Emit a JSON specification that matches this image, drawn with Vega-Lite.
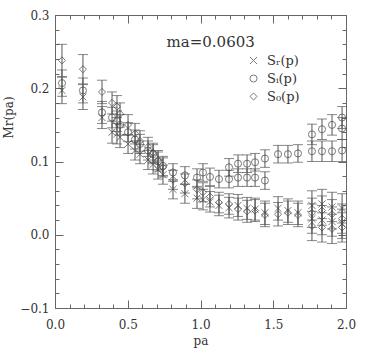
{
  "$schema": "https://vega.github.io/schema/vega-lite/v6.json",
  "width": 291,
  "height": 293,
  "autosize": {"type": "none"},
  "padding": {"left": 55, "top": 15, "right": 30, "bottom": 46},
  "background": "white",
  "config": {"view": {"stroke": "#666", "strokeWidth": 1}},
  "resolve": {"axis": {"x": "independent", "y": "independent"}},
  "datasets": {
    "pts": [
      {"p":0.048,"s":"R","v":0.197,"lo":0.179,"hi":0.215},
      {"p":0.192,"s":"R","v":0.188,"lo":0.171,"hi":0.205},
      {"p":0.323,"s":"R","v":0.160,"lo":0.145,"hi":0.175},
      {"p":0.392,"s":"R","v":0.140,"lo":0.125,"hi":0.155},
      {"p":0.426,"s":"R","v":0.138,"lo":0.124,"hi":0.152},
      {"p":0.447,"s":"R","v":0.133,"lo":0.119,"hi":0.147},
      {"p":0.502,"s":"R","v":0.124,"lo":0.111,"hi":0.137},
      {"p":0.550,"s":"R","v":0.115,"lo":0.102,"hi":0.128},
      {"p":0.584,"s":"R","v":0.110,"lo":0.097,"hi":0.123},
      {"p":0.639,"s":"R","v":0.102,"lo":0.089,"hi":0.115},
      {"p":0.674,"s":"R","v":0.096,"lo":0.083,"hi":0.109},
      {"p":0.708,"s":"R","v":0.089,"lo":0.076,"hi":0.102},
      {"p":0.742,"s":"R","v":0.082,"lo":0.069,"hi":0.095},
      {"p":0.811,"s":"R","v":0.062,"lo":0.049,"hi":0.075},
      {"p":0.893,"s":"R","v":0.056,"lo":0.043,"hi":0.069},
      {"p":0.976,"s":"R","v":0.050,"lo":0.036,"hi":0.064},
      {"p":1.017,"s":"R","v":0.048,"lo":0.034,"hi":0.062},
      {"p":1.065,"s":"R","v":0.045,"lo":0.031,"hi":0.059},
      {"p":1.127,"s":"R","v":0.040,"lo":0.026,"hi":0.054},
      {"p":1.196,"s":"R","v":0.037,"lo":0.023,"hi":0.051},
      {"p":1.258,"s":"R","v":0.040,"lo":0.025,"hi":0.055},
      {"p":1.320,"s":"R","v":0.036,"lo":0.021,"hi":0.051},
      {"p":1.375,"s":"R","v":0.035,"lo":0.020,"hi":0.050},
      {"p":1.443,"s":"R","v":0.030,"lo":0.014,"hi":0.046},
      {"p":1.533,"s":"R","v":0.036,"lo":0.020,"hi":0.052},
      {"p":1.601,"s":"R","v":0.033,"lo":0.017,"hi":0.049},
      {"p":1.670,"s":"R","v":0.030,"lo":0.014,"hi":0.046},
      {"p":1.766,"s":"R","v":0.040,"lo":0.020,"hi":0.060},
      {"p":1.766,"s":"R","v":0.022,"lo":0.002,"hi":0.042},
      {"p":1.835,"s":"R","v":0.042,"lo":0.022,"hi":0.062},
      {"p":1.835,"s":"R","v":0.020,"lo":0.000,"hi":0.040},
      {"p":1.904,"s":"R","v":0.038,"lo":0.018,"hi":0.058},
      {"p":1.904,"s":"R","v":0.018,"lo":-0.002,"hi":0.038},
      {"p":1.973,"s":"R","v":0.036,"lo":0.016,"hi":0.056},
      {"p":1.973,"s":"R","v":0.015,"lo":-0.005,"hi":0.035},

      {"p":0.048,"s":"I","v":0.207,"lo":0.189,"hi":0.225},
      {"p":0.192,"s":"I","v":0.197,"lo":0.180,"hi":0.214},
      {"p":0.323,"s":"I","v":0.167,"lo":0.152,"hi":0.182},
      {"p":0.392,"s":"I","v":0.160,"lo":0.146,"hi":0.174},
      {"p":0.426,"s":"I","v":0.155,"lo":0.141,"hi":0.169},
      {"p":0.447,"s":"I","v":0.150,"lo":0.136,"hi":0.164},
      {"p":0.502,"s":"I","v":0.140,"lo":0.127,"hi":0.153},
      {"p":0.550,"s":"I","v":0.130,"lo":0.117,"hi":0.143},
      {"p":0.584,"s":"I","v":0.124,"lo":0.111,"hi":0.137},
      {"p":0.639,"s":"I","v":0.115,"lo":0.102,"hi":0.128},
      {"p":0.674,"s":"I","v":0.110,"lo":0.097,"hi":0.123},
      {"p":0.708,"s":"I","v":0.100,"lo":0.087,"hi":0.113},
      {"p":0.742,"s":"I","v":0.094,"lo":0.081,"hi":0.107},
      {"p":0.811,"s":"I","v":0.085,"lo":0.073,"hi":0.097},
      {"p":0.893,"s":"I","v":0.081,"lo":0.069,"hi":0.093},
      {"p":0.976,"s":"I","v":0.078,"lo":0.066,"hi":0.090},
      {"p":1.017,"s":"I","v":0.085,"lo":0.073,"hi":0.097},
      {"p":1.065,"s":"I","v":0.079,"lo":0.067,"hi":0.091},
      {"p":1.127,"s":"I","v":0.076,"lo":0.064,"hi":0.088},
      {"p":1.196,"s":"I","v":0.076,"lo":0.064,"hi":0.088},
      {"p":1.196,"s":"I","v":0.092,"lo":0.080,"hi":0.104},
      {"p":1.258,"s":"I","v":0.078,"lo":0.066,"hi":0.090},
      {"p":1.258,"s":"I","v":0.097,"lo":0.085,"hi":0.109},
      {"p":1.320,"s":"I","v":0.078,"lo":0.066,"hi":0.090},
      {"p":1.320,"s":"I","v":0.097,"lo":0.085,"hi":0.109},
      {"p":1.375,"s":"I","v":0.078,"lo":0.066,"hi":0.090},
      {"p":1.375,"s":"I","v":0.099,"lo":0.087,"hi":0.111},
      {"p":1.443,"s":"I","v":0.074,"lo":0.062,"hi":0.086},
      {"p":1.443,"s":"I","v":0.104,"lo":0.092,"hi":0.116},
      {"p":1.533,"s":"I","v":0.110,"lo":0.098,"hi":0.122},
      {"p":1.601,"s":"I","v":0.110,"lo":0.098,"hi":0.122},
      {"p":1.670,"s":"I","v":0.111,"lo":0.099,"hi":0.123},
      {"p":1.766,"s":"I","v":0.114,"lo":0.100,"hi":0.128},
      {"p":1.766,"s":"I","v":0.137,"lo":0.123,"hi":0.151},
      {"p":1.835,"s":"I","v":0.114,"lo":0.100,"hi":0.128},
      {"p":1.835,"s":"I","v":0.144,"lo":0.130,"hi":0.158},
      {"p":1.904,"s":"I","v":0.114,"lo":0.100,"hi":0.128},
      {"p":1.904,"s":"I","v":0.150,"lo":0.136,"hi":0.164},
      {"p":1.973,"s":"I","v":0.115,"lo":0.100,"hi":0.130},
      {"p":1.973,"s":"I","v":0.145,"lo":0.130,"hi":0.160},
      {"p":1.973,"s":"I","v":0.160,"lo":0.145,"hi":0.175},

      {"p":0.048,"s":"0","v":0.238,"lo":0.216,"hi":0.260},
      {"p":0.192,"s":"0","v":0.226,"lo":0.206,"hi":0.246},
      {"p":0.323,"s":"0","v":0.195,"lo":0.179,"hi":0.211},
      {"p":0.392,"s":"0","v":0.180,"lo":0.165,"hi":0.195},
      {"p":0.426,"s":"0","v":0.175,"lo":0.160,"hi":0.190},
      {"p":0.447,"s":"0","v":0.165,"lo":0.150,"hi":0.180},
      {"p":0.502,"s":"0","v":0.150,"lo":0.136,"hi":0.164},
      {"p":0.550,"s":"0","v":0.138,"lo":0.124,"hi":0.152},
      {"p":0.584,"s":"0","v":0.128,"lo":0.114,"hi":0.142},
      {"p":0.639,"s":"0","v":0.120,"lo":0.107,"hi":0.133},
      {"p":0.674,"s":"0","v":0.112,"lo":0.099,"hi":0.125},
      {"p":0.708,"s":"0","v":0.102,"lo":0.089,"hi":0.115},
      {"p":0.742,"s":"0","v":0.092,"lo":0.079,"hi":0.105},
      {"p":0.811,"s":"0","v":0.075,"lo":0.062,"hi":0.088},
      {"p":0.893,"s":"0","v":0.070,"lo":0.057,"hi":0.083},
      {"p":0.976,"s":"0","v":0.062,"lo":0.049,"hi":0.075},
      {"p":1.017,"s":"0","v":0.058,"lo":0.045,"hi":0.071},
      {"p":1.065,"s":"0","v":0.052,"lo":0.038,"hi":0.066},
      {"p":1.127,"s":"0","v":0.044,"lo":0.030,"hi":0.058},
      {"p":1.196,"s":"0","v":0.042,"lo":0.028,"hi":0.056},
      {"p":1.258,"s":"0","v":0.035,"lo":0.020,"hi":0.050},
      {"p":1.320,"s":"0","v":0.032,"lo":0.017,"hi":0.047},
      {"p":1.375,"s":"0","v":0.033,"lo":0.018,"hi":0.048},
      {"p":1.443,"s":"0","v":0.027,"lo":0.011,"hi":0.043},
      {"p":1.533,"s":"0","v":0.028,"lo":0.012,"hi":0.044},
      {"p":1.601,"s":"0","v":0.030,"lo":0.014,"hi":0.046},
      {"p":1.670,"s":"0","v":0.027,"lo":0.011,"hi":0.043},
      {"p":1.766,"s":"0","v":0.030,"lo":0.010,"hi":0.050},
      {"p":1.766,"s":"0","v":0.012,"lo":-0.008,"hi":0.032},
      {"p":1.835,"s":"0","v":0.033,"lo":0.013,"hi":0.053},
      {"p":1.835,"s":"0","v":0.010,"lo":-0.010,"hi":0.030},
      {"p":1.904,"s":"0","v":0.028,"lo":0.008,"hi":0.048},
      {"p":1.904,"s":"0","v":0.008,"lo":-0.012,"hi":0.028},
      {"p":1.973,"s":"0","v":0.022,"lo":0.002,"hi":0.042},
      {"p":1.973,"s":"0","v":0.010,"lo":-0.010,"hi":0.030}
    ]
  },
  "layer": [
    {
      "data": {"name": "pts"},
      "mark": {"type": "errorbar", "ticks": {"size": 10, "color": "#555"}, "color": "#555", "thickness": 1},
      "encoding": {
        "x": {
          "field": "p", "type": "quantitative",
          "scale": {"domain": [0, 2], "nice": false, "zero": false},
          "axis": {
            "orient": "bottom", "title": "pa", "grid": false,
            "values": [0,0.1,0.2,0.3,0.4,0.5,0.6,0.7,0.8,0.9,1.0,1.1,1.2,1.3,1.4,1.5,1.6,1.7,1.8,1.9,2.0],
            "labelExpr": "abs(round(datum.value*10)) % 5 == 0 ? format(datum.value, '.1f') : ''",
            "tickSize": {"condition": {"test": "abs(round(datum.value*10)) % 5 == 0", "value": -8}, "value": -4},
            "labelOverlap": false, "labelFlush": false,
            "domainColor": "#666", "tickColor": "#666",
            "labelFont": "DejaVu Serif", "labelFontSize": 12, "labelColor": "#333", "labelPadding": 19,
            "titleFont": "DejaVu Serif", "titleFontSize": 12, "titleFontWeight": "normal", "titleColor": "#333", "titlePadding": 1
          }
        },
        "y": {
          "field": "lo", "type": "quantitative",
          "scale": {"domain": [-0.1, 0.3], "nice": false, "zero": false},
          "axis": {
            "orient": "left", "title": "Mr(pa)", "grid": false,
            "values": [-0.1,-0.08,-0.06,-0.04,-0.02,0,0.02,0.04,0.06,0.08,0.1,0.12,0.14,0.16,0.18,0.2,0.22,0.24,0.26,0.28,0.3],
            "labelExpr": "abs(round(datum.value*100)) % 10 == 0 ? format(datum.value, '.1f') : ''",
            "tickSize": {"condition": {"test": "abs(round(datum.value*100)) % 10 == 0", "value": -8}, "value": -4},
            "labelOverlap": false, "labelFlush": false,
            "domainColor": "#666", "tickColor": "#666",
            "labelFont": "DejaVu Serif", "labelFontSize": 12, "labelColor": "#333", "labelPadding": 14,
            "titleFont": "DejaVu Serif", "titleFontSize": 12, "titleFontWeight": "normal", "titleColor": "#333",
            "titleX": -40, "titleY": 102
          }
        },
        "y2": {"field": "hi"}
      }
    },
    {
      "data": {"name": "pts"},
      "mark": {"type": "point", "filled": false, "strokeWidth": 1, "color": "#444", "size": 50},
      "encoding": {
        "x": {
          "field": "p", "type": "quantitative",
          "axis": {
            "orient": "top", "title": null, "labels": false, "grid": false,
            "values": [0,0.1,0.2,0.3,0.4,0.5,0.6,0.7,0.8,0.9,1.0,1.1,1.2,1.3,1.4,1.5,1.6,1.7,1.8,1.9,2.0],
            "tickSize": {"condition": {"test": "abs(round(datum.value*10)) % 5 == 0", "value": -8}, "value": -4},
            "domainColor": "#666", "tickColor": "#666"
          }
        },
        "y": {
          "field": "v", "type": "quantitative",
          "axis": {
            "orient": "right", "title": null, "labels": false, "grid": false,
            "values": [-0.1,-0.08,-0.06,-0.04,-0.02,0,0.02,0.04,0.06,0.08,0.1,0.12,0.14,0.16,0.18,0.2,0.22,0.24,0.26,0.28,0.3],
            "tickSize": {"condition": {"test": "abs(round(datum.value*100)) % 10 == 0", "value": -8}, "value": -4},
            "domainColor": "#666", "tickColor": "#666"
          }
        },
        "shape": {
          "field": "s", "type": "nominal",
          "scale": {"domain": ["R", "I", "0"], "range": ["M-1,-1L1,1M-1,1L1,-1", "circle", "diamond"]},
          "legend": {
            "orient": "none", "legendX": 192, "legendY": 39, "title": null,
            "labelExpr": "datum.label == 'R' ? 'Sᵣ(p)' : datum.label == 'I' ? 'Sᵢ(p)' : 'S₀(p)'",
            "labelFont": "DejaVu Serif", "labelFontSize": 13, "labelColor": "#333", "labelOffset": 7,
            "symbolStrokeColor": "#444", "symbolFillColor": "transparent", "symbolStrokeWidth": 1, "symbolSize": 50,
            "rowPadding": 4, "padding": 0
          }
        }
      }
    },
    {
      "data": {"values": [{"t": "ma=0.0603"}]},
      "mark": {"type": "text", "font": "DejaVu Serif", "fontSize": 15, "color": "#333", "align": "center", "baseline": "middle"},
      "encoding": {
        "x": {"datum": 1.07, "type": "quantitative", "axis": null},
        "y": {"datum": 0.263, "type": "quantitative", "axis": null},
        "text": {"field": "t"}
      }
    }
  ]
}
